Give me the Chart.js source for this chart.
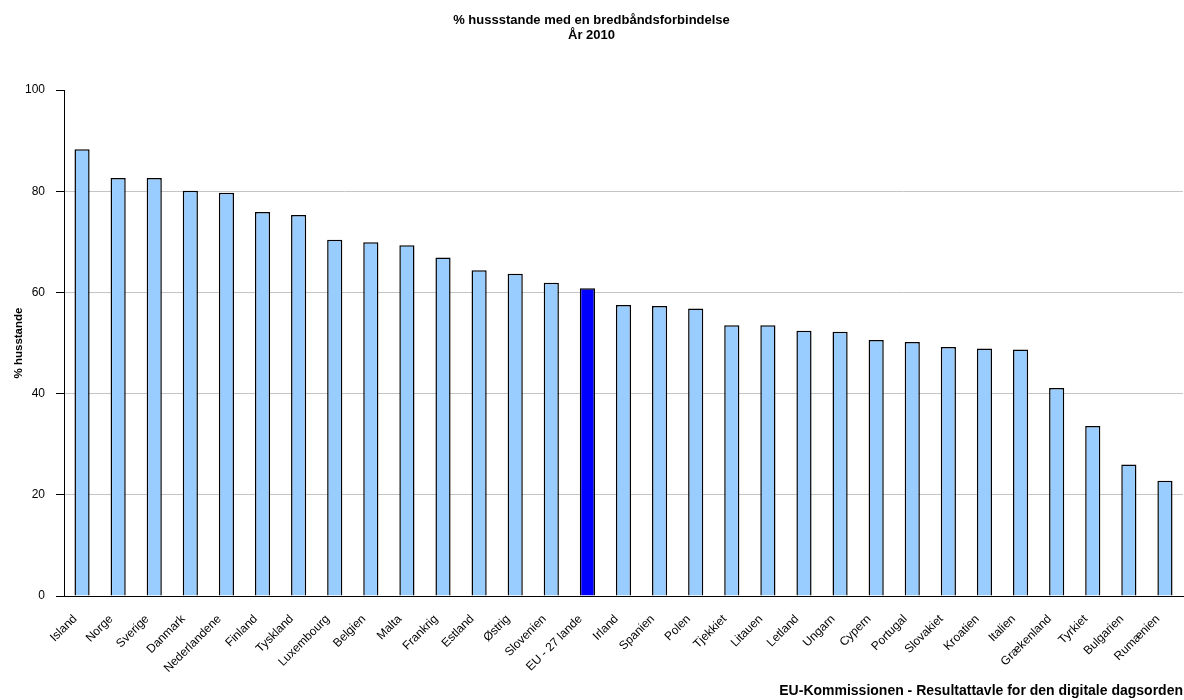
<!DOCTYPE html>
<html>
<head>
<meta charset="utf-8">
<script src="https://cdn.jsdelivr.net/npm/chart.js@4/dist/chart.umd.min.js"></script>
<style>
    html, body { margin: 0; padding: 0; background: #fff; }
    #wrap { width: 1184px; height: 700px; }
</style>
</head>
<body>
<div id="wrap"><canvas id="broadbandChart" width="1184" height="700"></canvas></div>
<script>
    const countries = ['Island', 'Norge', 'Sverige', 'Danmark', 'Nederlandene', 'Finland', 'Tyskland',
        'Luxembourg', 'Belgien', 'Malta', 'Frankrig', 'Estland', 'Østrig', 'Slovenien', 'EU - 27 lande',
        'Irland', 'Spanien', 'Polen', 'Tjekkiet', 'Litauen', 'Letland', 'Ungarn', 'Cypern', 'Portugal',
        'Slovakiet', 'Kroatien', 'Italien', 'Grækenland', 'Tyrkiet', 'Bulgarien', 'Rumænien'];
    const households = [88.3, 82.6, 82.6, 80.1, 79.7, 75.9, 75.3, 70.4, 69.9, 69.3, 66.9, 64.4, 63.7,
        61.9, 60.8, 57.5, 57.3, 56.8, 53.5, 53.5, 52.4, 52.2, 50.6, 50.2, 49.2, 48.9, 48.7, 41.1,
        33.6, 26.0, 22.8];
    const yTicks = [0, 20, 40, 60, 80, 100];
    const highlight = 'EU - 27 lande';

    const chartTitle = ['% hussstande med en bredbåndsforbindelse', 'År 2010'];
    const yTitle = '% husstande';
    const footer = 'EU-Kommissionen - Resultattavle for den digitale dagsorden';

    const fontFamily = "'Liberation Sans', Arial, sans-serif";

    // EU average gets the dark blue, the rest light blue
    const barColors = countries.map(c => c === highlight ? '#0000ff' : '#99ccff');

    const ctx = document.getElementById('broadbandChart').getContext('2d');

    const broadbandChart = new Chart(ctx, {
        type: 'bar',
        data: {
            labels: countries,
            datasets: [{
                label: yTitle,
                data: households,
                backgroundColor: barColors,
                borderColor: '#000',
                borderWidth: 1.5,
                categoryPercentage: 1,
                barPercentage: 0.42
            }]
        },
        options: {
            responsive: false,
            animation: false,
            layout: {
                padding: { top: 0, left: 0, right: 1, bottom: 0 }
            },
            plugins: {
                legend: { display: false },
                tooltip: { enabled: false },
                title: {
                    display: true,
                    text: chartTitle,
                    color: '#000',
                    font: { family: fontFamily, size: 13, weight: 'bold', lineHeight: 1.154 },
                    padding: { top: 13, bottom: 47 }
                },
                subtitle: {
                    display: true,
                    position: 'bottom',
                    align: 'end',
                    text: footer,
                    color: '#000',
                    font: { family: fontFamily, size: 14, weight: 'bold', lineHeight: 1 },
                    padding: { top: -2, bottom: 2 }
                }
            },
            scales: {
                x: {
                    grid: { display: false, drawTicks: false },
                    border: { display: true, color: '#000', width: 1 },
                    ticks: {
                        color: '#000',
                        font: { family: fontFamily, size: 12 },
                        maxRotation: 45,
                        minRotation: 45,
                        autoSkip: false,
                        padding: 16,
                        labelOffset: -7
                    },
                    afterFit: (axis) => {
                        axis.height = 700 - 596 - 14;
                        axis.paddingLeft = 0;
                        axis.paddingRight = 0;
                    }
                },
                y: {
                    min: 0,
                    max: 100,
                    afterBuildTicks: (axis) => { axis.ticks = yTicks.map(v => ({ value: v })); },
                    grid: {
                        color: (c) => (c.tick && (c.tick.value === 100 || c.tick.value === 0)) ? 'rgba(0,0,0,0)' : '#c4c4c4',
                        tickColor: '#000',
                        tickLength: 8,
                        lineWidth: 1
                    },
                    border: { display: true, color: '#000', width: 1 },
                    ticks: {
                        color: '#000',
                        font: { family: fontFamily, size: 12 },
                        padding: 11
                    },
                    title: {
                        display: true,
                        text: yTitle,
                        color: '#000',
                        font: { family: fontFamily, size: 11.5, weight: 'bold' },
                        padding: { top: 12, bottom: 0 }
                    },
                    afterFit: (axis) => { axis.width = 64; }
                }
            }
        }
    });
</script>
</body>
</html>
